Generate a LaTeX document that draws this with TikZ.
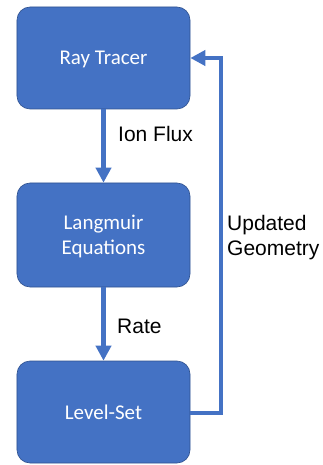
\documentclass[tikz,border=0pt]{standalone}
\usepackage{fontspec}
\setmainfont{Liberation Sans}
\newfontfamily\boxfont{Carlito}
\usetikzlibrary{arrows.meta}
\definecolor{boxblue}{HTML}{4472C4}
\definecolor{boxedge}{HTML}{2F528F}
\tikzset{
  procbox/.style={draw=boxedge, line width=0.6bp, fill=boxblue, rounded corners=13bp,
    minimum width=173bp, minimum height=102bp, inner sep=0pt, text=white, text depth=0pt,
    font=\boxfont\fontsize{21bp}{24.5bp}\selectfont, align=center},
  flow/.style={draw=boxblue, line width=4.5bp, -{Triangle[width=15bp,length=15bp]}},
  lbl/.style={font=\fontsize{21bp}{25bp}\selectfont, text=black, inner sep=0pt, anchor=west, align=left}
}
\begin{document}
\begin{tikzpicture}[x=1bp,y=-1bp]
\useasboundingbox (0,0) rectangle (322,465);
\node[procbox] (ray) at (103.5,58) {Ray Tracer};
\node[procbox, minimum height=104bp] (lang) at (103.5,235) {Langmuir\\Equations};
\node[procbox] (ls) at (103.5,412) {Level-Set};
\draw[flow] (ray) -- (lang);
\draw[flow] (lang) -- (ls);
\coordinate (c1) at (221,413);
\coordinate (c2) at (221,58);
\draw[flow, line join=miter] (ls.east |- c1) -- (c1) -- (c2) -- (ray.east |- c2);
\node[lbl] (ionflux) at (118,134) {Ion Flux};
\node[lbl] (rate) at (117,326) {Rate};
\node[lbl, anchor=north west] (upd) at (227,215) {Updated\\Geometry};
\end{tikzpicture}
\end{document}
